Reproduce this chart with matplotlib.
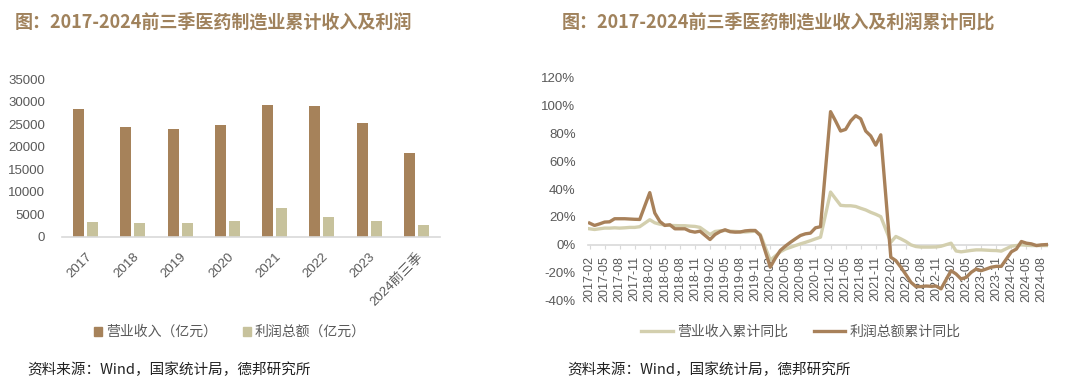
import matplotlib
matplotlib.use("Agg")
import matplotlib.pyplot as plt
from matplotlib.patches import Patch

plt.rcParams['font.family'] = ['Liberation Sans', 'Noto Sans CJK SC']
plt.rcParams['axes.unicode_minus'] = False

# ---- data: bar chart (亿元) ----
years = ["2017", "2018", "2019", "2020", "2021", "2022", "2023", "2024前三季"]
revenue = [28400, 24300, 23900, 24860, 29290, 29110, 25200, 18470]
profit = [3300, 3100, 3100, 3500, 6270, 4290, 3470, 2560]

# ---- data: monthly cumulative YoY (%), Feb-Dec each year ----
rev_yoy_2017 = [11.5, 11.0, 11.5, 12.0, 12.0, 12.2, 12.0, 12.2, 12.5, 12.5, 13.0]
rev_yoy_2018 = [18.0, 15.8, 14.8, 14.2, 13.9, 13.8, 13.7, 13.7, 13.4, 13.2, 12.5]
rev_yoy_2019 = [7.4, 9.6, 10.0, 10.3, 9.8, 9.6, 9.4, 9.2, 9.5, 9.8, 7.5]
rev_yoy_2020 = [-11.0, -8.0, -5.0, -3.0, -1.8, -0.5, 0.7, 1.8, 3.0, 4.3, 5.5]
rev_yoy_2021 = [37.8, 33.0, 28.3, 28.0, 28.0, 27.5, 26.2, 25.0, 23.3, 21.9, 20.2]
rev_yoy_2022 = [1.9, 6.0, 4.3, 2.4, 0.0, -1.2, -1.6, -1.6, -1.6, -1.5, -1.0]
rev_yoy_2023 = [1.2, -4.4, -5.0, -4.5, -4.0, -3.6, -3.6, -3.8, -4.0, -4.1, -4.5]
rev_yoy_2024 = [-1.0, -0.5, 0.0, -0.3, -0.5, -0.5, -0.5, -0.5]

pro_yoy_2017 = [15.6, 13.9, 15.0, 16.3, 16.5, 18.7, 18.7, 18.7, 18.5, 18.3, 18.2]
pro_yoy_2018 = [37.4, 22.8, 16.8, 13.9, 14.4, 11.5, 11.5, 11.5, 9.8, 9.1, 9.8]
pro_yoy_2019 = [3.8, 7.4, 9.5, 10.8, 9.4, 9.1, 9.2, 10.0, 10.3, 10.3, 6.7]
pro_yoy_2020 = [-16.0, -9.5, -4.0, -0.9, 1.8, 4.3, 6.7, 7.9, 8.4, 12.2, 13.0]
pro_yoy_2021 = [95.4, 88.7, 81.5, 82.7, 88.7, 92.5, 90.3, 81.5, 78.0, 71.4, 78.8]
pro_yoy_2022 = [-8.9, -11.3, -16.0, -21.3, -26.8, -29.9, -29.9, -29.5, -29.7, -29.5, -31.5]
pro_yoy_2023 = [-18.5, -20.9, -24.5, -23.3, -19.7, -17.3, -18.5, -17.3, -16.0, -15.4, -15.4]
pro_yoy_2024 = [-5.0, -3.0, 2.4, 1.2, 0.7, -0.5, 0.0, 0.2]

rev_yoy = (rev_yoy_2017 + rev_yoy_2018 + rev_yoy_2019 + rev_yoy_2020
           + rev_yoy_2021 + rev_yoy_2022 + rev_yoy_2023 + rev_yoy_2024)
pro_yoy = (pro_yoy_2017 + pro_yoy_2018 + pro_yoy_2019 + pro_yoy_2020
           + pro_yoy_2021 + pro_yoy_2022 + pro_yoy_2023 + pro_yoy_2024)

months = [(y, m) for y in range(2017, 2025) for m in range(2, 13)
          if not (y == 2024 and m > 9)]
mpos = [(y - 2017) * 12 + (m - 2) for y, m in months]  # date-axis position
tick_pos = list(range(0, 91, 3))
tick_lab = ["%d-%02d" % (2017 + (p + 1) // 12, (p + 1) % 12 + 1) for p in tick_pos]

c_rev = "#A6825A"
c_pro = "#C7C29C"
c_line_rev = "#D3CFAE"
c_line_pro = "#A8815A"
c_title = "#A0825C"
c_tick = "#595959"
c_axis = "#D9D9D9"

W, H = 1080, 388
fig = plt.figure(figsize=(W / 100, H / 100), dpi=100)


def px_axes(x0, y0, x1, y1):
    return fig.add_axes([x0 / W, 1 - y1 / H, (x1 - x0) / W, (y1 - y0) / H])


# ================= left: bars =================
ax = px_axes(62, 79, 440, 236.7)
x = list(range(len(years)))
ax.bar([i - 0.148 for i in x], revenue, width=0.23, color=c_rev)
ax.bar([i + 0.148 for i in x], profit, width=0.23, color=c_pro)
for s in ["top", "right", "left"]:
    ax.spines[s].set_visible(False)
ax.spines["bottom"].set_color(c_axis)
ax.spines["bottom"].set_linewidth(1.2)
ax.set_xlim(-0.5, 7.5)
ax.set_ylim(0, 35000)
ax.set_yticks(range(0, 35001, 5000))
ax.set_xticks(x)
ax.set_xticklabels(years, rotation=45, ha="right", va="top", rotation_mode="anchor")
ax.tick_params(axis="y", length=0, labelsize=9.5, labelcolor=c_tick, pad=12)
ax.tick_params(axis="x", length=0, labelsize=9.5, labelcolor=c_tick, pad=10)

ax.legend(handles=[Patch(color=c_rev, label="营业收入（亿元）"),
                   Patch(color=c_pro, label="利润总额（亿元）")],
          loc="center", bbox_to_anchor=(230 / W, 1 - 332 / H),
          bbox_transform=fig.transFigure, ncol=2, frameon=False,
          handlelength=0.6, handleheight=0.6, handletextpad=0.3,
          columnspacing=1.8, prop={"family": "Noto Sans CJK SC", "size": 10},
          labelcolor=c_tick)

# ================= right: lines =================
ax2 = px_axes(588, 77.3, 1048, 300.7)
for s in ["top", "right", "left"]:
    ax2.spines[s].set_visible(False)
ax2.spines["bottom"].set_position(("data", 0))
ax2.spines["bottom"].set_color(c_axis)
ax2.spines["bottom"].set_linewidth(1.2)
ax2.plot(mpos, rev_yoy, color=c_line_rev, lw=2.4, zorder=3, label="营业收入累计同比")
ax2.plot(mpos, pro_yoy, color=c_line_pro, lw=2.4, zorder=4, label="利润总额累计同比")
ax2.set_xlim(-0.3, 91.3)
ax2.set_ylim(-40, 120)
ax2.set_yticks(range(-40, 121, 20))
ax2.set_yticklabels(["%d%%" % v for v in range(-40, 121, 20)])
ax2.set_xticks(tick_pos)
ax2.set_xticklabels(tick_lab, rotation=90)
ax2.tick_params(axis="y", length=0, labelsize=9.5, labelcolor=c_tick, pad=9)
ax2.tick_params(axis="x", length=3, color=c_axis, labelsize=9, labelcolor=c_tick, pad=5)

ax2.legend(loc="center", bbox_to_anchor=(801 / W, 1 - 332 / H),
           bbox_transform=fig.transFigure, ncol=2, frameon=False,
           handlelength=2.3, handletextpad=0.3, columnspacing=1.8,
           prop={"family": "Noto Sans CJK SC", "size": 10}, labelcolor=c_tick)

# ================= titles & sources =================
fig.text(15 / W, 1 - 22 / H, "图：2017-2024前三季医药制造业累计收入及利润",
         color=c_title, fontsize=13, fontweight="bold", va="center", ha="left",
         family=["Noto Sans CJK SC"])
fig.text(562 / W, 1 - 22 / H, "图：2017-2024前三季医药制造业收入及利润累计同比",
         color=c_title, fontsize=13, fontweight="bold", va="center", ha="left",
         family=["Noto Sans CJK SC"])
fig.text(27 / W, 1 - 370 / H, "资料来源：Wind，国家统计局，德邦研究所",
         color="#222222", fontsize=10.5, va="center", ha="left",
         family=["Noto Sans CJK SC"])
fig.text(567 / W, 1 - 370 / H, "资料来源：Wind，国家统计局，德邦研究所",
         color="#222222", fontsize=10.5, va="center", ha="left",
         family=["Noto Sans CJK SC"])

fig.savefig("out.png", dpi=100, facecolor="white")
